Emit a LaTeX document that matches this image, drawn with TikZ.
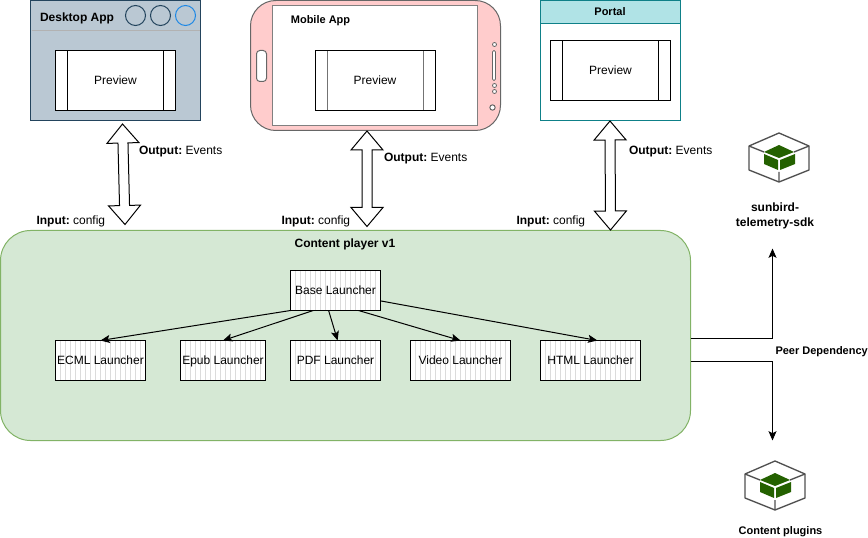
\documentclass[tikz,border=0pt]{standalone}
\usepackage{fontspec}
\setmainfont{Liberation Sans}
\frenchspacing
\usetikzlibrary{positioning,calc,arrows.meta,patterns.meta}
\definecolor{deskfill}{HTML}{BAC8D3}
\definecolor{deskline}{HTML}{23445D}
\definecolor{deskblue}{HTML}{1E88E5}
\definecolor{mobilefill}{HTML}{FFCCCC}
\definecolor{mobileline}{HTML}{666666}
\definecolor{portalfill}{HTML}{B0E3E6}
\definecolor{portalline}{HTML}{0E8088}
\definecolor{playerfill}{HTML}{D5E8D4}
\definecolor{playerline}{HTML}{82B366}
\definecolor{cubegreen}{HTML}{246100}
\definecolor{cubeline}{HTML}{505050}
\tikzset{sidecolor/.store in=\sidecolor,sidecolor=black}
\tikzstyle{preview}=[rectangle,draw=black,fill=white,line width=.75pt,minimum width=90pt,minimum height=45pt,
inner sep=0pt,outer sep=0pt,font=\fontsize{9}{11}\selectfont,text height=6.2pt,text depth=0pt,path picture={
\draw[\sidecolor,line width=.75pt] ([xshift=9pt]path picture bounding box.north west) -- ([xshift=9pt]path picture bounding box.south west);
\draw[\sidecolor,line width=.75pt] ([xshift=-9pt]path picture bounding box.north east) -- ([xshift=-9pt]path picture bounding box.south east);}]
\tikzstyle{launcher}=[rectangle,draw=black,line width=.75pt,minimum height=30pt,inner sep=0pt,outer sep=0pt,
preaction={fill=white},pattern={Lines[angle=90,distance=3.75pt,line width=.4pt]},pattern color=black!14,
font=\fontsize{9}{11}\selectfont,text height=6.2pt,text depth=0pt]
\tikzstyle{plain}=[inner sep=0pt,outer sep=0pt,font=\fontsize{9}{11}\selectfont,text height=6.2pt,text depth=0pt]
\tikzstyle{boldlabel}=[inner sep=0pt,outer sep=0pt,font=\fontsize{8.25}{11}\selectfont\bfseries,text height=5.7pt,text depth=0pt]
\tikzstyle{flow}=[line width=.75pt,-{Stealth[length=7pt,width=6pt,inset=1.5pt]}]
\tikzstyle{blockarrow}=[draw=black,fill=white,line width=.75pt,to path={
-- ($(\tikztostart)!14.25pt!(\tikztotarget)!12pt!90:(\tikztotarget)$)
-- ($(\tikztostart)!14.25pt!(\tikztotarget)!3.75pt!90:(\tikztotarget)$)
-- ($(\tikztotarget)!14.25pt!(\tikztostart)!3.75pt!-90:(\tikztostart)$)
-- ($(\tikztotarget)!14.25pt!(\tikztostart)!12pt!-90:(\tikztostart)$)
-- (\tikztotarget)
-- ($(\tikztotarget)!14.25pt!(\tikztostart)!12pt!90:(\tikztostart)$)
-- ($(\tikztotarget)!14.25pt!(\tikztostart)!3.75pt!90:(\tikztostart)$)
-- ($(\tikztostart)!14.25pt!(\tikztotarget)!3.75pt!-90:(\tikztotarget)$)
-- ($(\tikztostart)!14.25pt!(\tikztotarget)!12pt!-90:(\tikztotarget)$)
-- cycle}]
\tikzset{bundleicon/.pic={
  \draw[cubeline,line width=1pt,line join=round] (0,-24.5) -- (30,-11.5) -- (30,12.5) -- (0,24.5) -- (-30,12.5) -- (-30,-11.5) -- cycle;
  \draw[cubeline,line width=1pt] (-30,-11.5) -- (-15,-5.5) (30,-11.5) -- (15,-5.5) (0,14.5) -- (0,24.5);
  \fill[cubegreen] (0,-12.5) -- (15,-5.5) -- (0,0.5) -- (-15,-5.5) -- cycle;
  \fill[cubegreen] (-15,-3.5) -- (-1,2.5) -- (-1,12.5) -- (-15,6.5) -- cycle;
  \fill[cubegreen] (1,2.5) -- (16,-3.5) -- (16,6.5) -- (1,12.5) -- cycle;
}}

\begin{document}
\begin{tikzpicture}[x=.75pt,y=-.75pt]
            \useasboundingbox (-.5,-.5) rectangle (867.5,537.5);

            % Desktop app

            \node[rectangle,draw=deskline,fill=deskfill,line width=.75pt,minimum width=127.5pt,minimum height=90pt,inner sep=0pt,outer sep=0pt] (desktop) at (115,60) {};
            \draw[black!30,line width=.75pt] (31,30) -- (199,30);
            \node[circle,draw=deskline,line width=.75pt,minimum size=15pt,inner sep=0pt] (btnone) at (135,15) {};
            \node[circle,draw=deskline,line width=.75pt,minimum size=15pt,inner sep=0pt] (btntwo) at (160,15) {};
            \node[circle,draw=deskblue,line width=.75pt,minimum size=15pt,inner sep=0pt] (btnthree) at (185,15) {};
            \node[plain,font=\fontsize{9}{11}\selectfont\bfseries,anchor=west] (desktoptitle) at (39.5,17) {Desktop App};
            \node[preview] (previewa) at (115,80) {Preview};

            % Mobile app

            \node[rectangle,rounded corners=19pt,draw=mobileline,fill=mobilefill,line width=.75pt,minimum width=187.5pt,minimum height=97.5pt,inner sep=0pt,outer sep=0pt] (mobile) at (375,65) {};
            \node[rectangle,draw=black!50,fill=white,line width=.9pt,minimum width=154pt,minimum height=90.5pt,inner sep=0pt,outer sep=0pt] (screen) at (374.5,65) {};
            \node[rectangle,rounded corners=2.5pt,draw=mobileline,fill=white,line width=.75pt,minimum width=7.5pt,minimum height=23.25pt,inner sep=0pt] (homekey) at (261,65.5) {};
            \node[circle,draw=mobileline,fill=white,line width=.6pt,minimum size=3pt,inner sep=0pt] (sensora) at (494,44) {};
            \node[rectangle,rounded corners=1pt,draw=mobileline,fill=white,line width=.6pt,minimum width=2.25pt,minimum height=22.5pt,inner sep=0pt] (slot) at (493.5,65) {};
            \node[circle,draw=mobileline,fill=white,line width=.6pt,minimum size=3pt,inner sep=0pt] (sensorb) at (494,85) {};
            \node[circle,draw=mobileline,fill=white,line width=.6pt,minimum size=3pt,inner sep=0pt] (sensorc) at (494,91) {};
            \node[circle,draw=mobileline,fill=white,line width=.75pt,minimum size=4pt,inner sep=0pt] (sensord) at (492,107) {};
            \node[boldlabel] (mobiletitle) at (320,19.5) {Mobile App};
            \node[preview,sidecolor=black!55] (previewb) at (374.5,80) {Preview};

            % Portal

            \node[rectangle,draw=portalline,fill=white,line width=.75pt,minimum width=105pt,minimum height=90pt,inner sep=0pt,outer sep=0pt] (portal) at (610,60) {};
            \node[rectangle,draw=portalline,fill=portalfill,line width=.75pt,minimum width=105pt,minimum height=17.25pt,inner sep=0pt,outer sep=0pt] (portalhead) at (610,11.5) {};
            \node[boldlabel] (portaltitle) at (609.5,11.5) {Portal};
            \node[preview] (previewc) at (610,70) {Preview};

            % Content player

            \node[rectangle,rounded corners=22.5pt,draw=playerline,fill=playerfill,line width=.75pt,minimum width=517.5pt,minimum height=157.5pt,inner sep=0pt,outer sep=0pt] (player) at (345,335) {};
            \node[boldlabel,font=\fontsize{9}{11}\selectfont\bfseries] (playertitle) at (344.5,243.5) {Content player v1};

            \node[launcher,minimum width=67.5pt] (base) at (335,290) {Base Launcher};
            \node[launcher,minimum width=67.5pt,below=22.5pt of base] (pdf) {PDF Launcher};
            \node[launcher,minimum width=63.75pt,left=18.75pt of pdf] (epub) {Epub Launcher};
            \node[launcher,minimum width=67.5pt,left=26.25pt of epub] (ecml) {ECML Launcher};
            \node[launcher,minimum width=75pt,right=22.5pt of pdf] (video) {Video Launcher};
            \node[launcher,minimum width=75pt,right=22.5pt of video] (html) {HTML Launcher};

            \path[flow] (base.south west) edge (ecml.north);
            \path[flow] (base.222) edge (epub.north);
            \path[flow] (base.251) edge (pdf.84);
            \path[flow] (base.319) edge (video.north);
            \path[flow] (base.347.5) edge (html.71);

            % Input and output

            \coordinate (desktopup) at (122,123.5);
            \coordinate (desktopdown) at (124.5,224);
            \coordinate (mobileup) at (366.5,130.5);
            \coordinate (mobiledown) at (366.5,226);
            \coordinate (portalup) at (609.5,120.5);
            \coordinate (portaldown) at (610,229.5);

            \draw[blockarrow] (desktopup) to (desktopdown);
            \draw[blockarrow] (mobileup) to (mobiledown);
            \draw[blockarrow] (portalup) to (portaldown);

            \node[plain,anchor=west] (outa) at (138.5,149.5) {\textbf{Output:} Events};
            \node[plain,anchor=west] (outb) at (383.5,156.5) {\textbf{Output:} Events};
            \node[plain,anchor=west] (outc) at (628.5,149.5) {\textbf{Output:} Events};
            \node[plain,anchor=west] (ina) at (36,219.5) {\textbf{Input:} config};
            \node[plain,anchor=west] (inb) at (281,219.5) {\textbf{Input:} config};
            \node[plain,anchor=west] (inc) at (516,219.5) {\textbf{Input:} config};

            % Dependencies

            \coordinate (sdkin) at (772,248);
            \coordinate (pluginsin) at (772,440);
            \draw[flow] (player.east |- 0,338) -| (sdkin);
            \draw[flow] (player.east |- 0,361) -| (pluginsin);
            \node[boldlabel,anchor=west] (peer) at (775,350.5) {Peer Dependency};

            \pic at (778.5,157) {bundleicon};
            \node[inner sep=0pt,outer sep=0pt,align=center,font=\fontsize{9}{11.25}\selectfont\bfseries] (sdk) at (774.5,215.5) {sunbird-\\telemetry-sdk};
            \pic at (774.5,485) {bundleicon};
            \node[boldlabel] (plugins) at (780,530.5) {Content plugins};

        \end{tikzpicture}
\end{document}
